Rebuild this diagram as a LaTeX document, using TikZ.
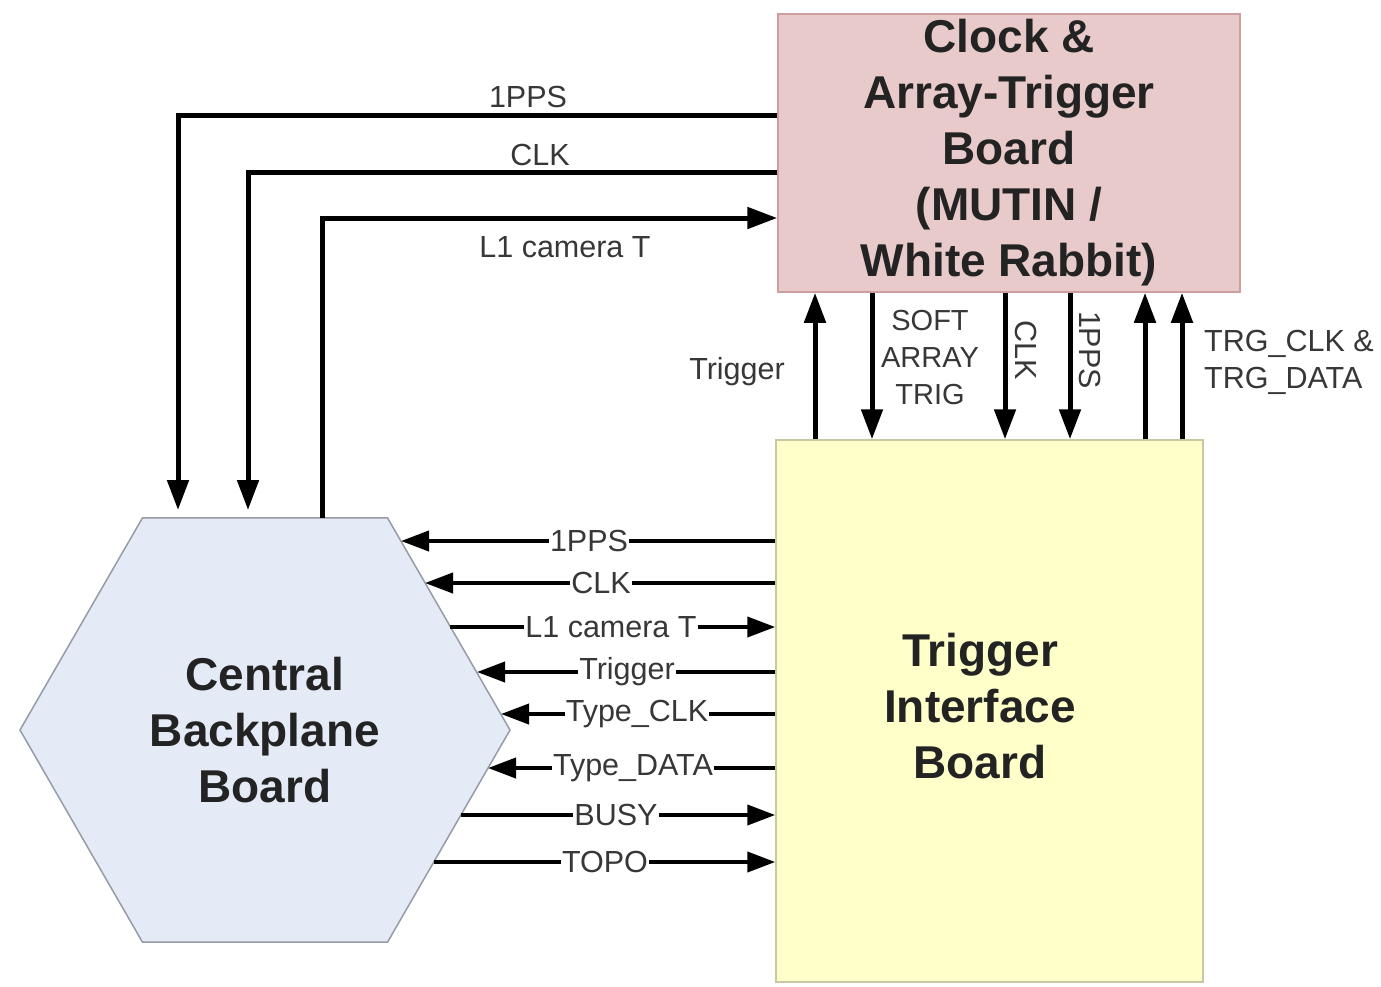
\documentclass[tikz,border=0pt]{standalone}
\usepackage{fontspec}
\setmainfont{Liberation Sans}
\usetikzlibrary{arrows.meta,shapes.geometric}
\definecolor{cabfill}{RGB}{232,202,202}
\definecolor{cabdraw}{RGB}{205,160,160}
\definecolor{tibfill}{RGB}{255,255,202}
\definecolor{tibdraw}{RGB}{200,200,165}
\definecolor{hexfill}{RGB}{228,235,246}
\definecolor{hexdraw}{RGB}{150,156,166}
\definecolor{txt}{RGB}{35,35,35}
\definecolor{ltxt}{RGB}{55,55,55}
\tikzset{
  bigtxt/.style={font=\fontsize{46}{56}\selectfont\bfseries, text=txt, align=center},
  lbl/.style={font=\fontsize{30.5}{37}\selectfont, text=ltxt, inner sep=1pt},
  onlbl/.style={lbl, fill=white},
  wire/.style={line width=5pt, line cap=butt},
  arr/.style={wire, -{Triangle[length=30pt,width=21pt]}},
  harr/.style={line width=4pt, -{Triangle[length=28pt,width=20pt]}},
}
\begin{document}
\begin{tikzpicture}[x=1pt,y=-1pt]
\useasboundingbox (0,0) rectangle (1381,986);
\fill[white] (0,0) rectangle (1381,986);
% boxes
\node[draw=cabdraw, fill=cabfill, line width=1.5pt, minimum width=462pt, minimum height=278pt, inner sep=0pt] (cab) at (1009,153) {};
\node[bigtxt] (cabtxt) at (1009,153) {Clock \&\\Array-Trigger\\Board\\(MUTIN /\\White Rabbit)};
\node[draw=tibdraw, fill=tibfill, line width=1.5pt, minimum width=427pt, minimum height=542pt, inner sep=0pt] (tib) at (989.5,711) {};
\node[bigtxt] (tibtxt) at (980,706) {Trigger\\Interface\\Board};
\node[draw=hexdraw, fill=hexfill, line width=1.5pt, regular polygon, regular polygon sides=6, minimum size=490pt, inner sep=0pt] (cbb) at (265,730) {};
\node[bigtxt] (cbbtxt) at (265,730) {Central\\Backplane\\Board};

% top-left connectors
\coordinate (c1a) at (178,115); \coordinate (c1b) at (178,510);
\coordinate (c2a) at (248,172); \coordinate (c2b) at (248,510);
\coordinate (c3a) at (322,218); \coordinate (c3b) at (322,518);
\draw[arr] (cab.west |- c1a) -- (c1a) -- (c1b);
\draw[arr] (cab.west |- c2a) -- (c2a) -- (c2b);
\draw[arr] (c3b) -- (c3a) -- (cab.west |- c3a);
\node[lbl] (l1) at (528,97) {1PPS};
\node[lbl] (l2) at (540,155) {CLK};
\node[lbl] (l3) at (565,247) {L1 camera T};

% vertical connectors between boards
\coordinate (v1) at (815,0);
\coordinate (v2) at (872,0);
\coordinate (v3) at (1005,0);
\coordinate (v4) at (1070,0);
\coordinate (v5) at (1145,0);
\coordinate (v6) at (1182,0);
\draw[arr] (v1 |- tib.north) -- (v1 |- cab.south);
\draw[arr] (v2 |- cab.south) -- (v2 |- tib.north);
\draw[arr] (v3 |- cab.south) -- (v3 |- tib.north);
\draw[arr] (v4 |- cab.south) -- (v4 |- tib.north);
\draw[arr] (v5 |- tib.north) -- (v5 |- cab.south);
\draw[arr] (v6 |- tib.north) -- (v6 |- cab.south);
\node[lbl] (lv1) at (737,372) {Trigger};
\node[lbl, align=center, font=\fontsize{29}{37}\selectfont] (lv2) at (930,358) {SOFT\\ARRAY\\TRIG};
\node[lbl, rotate=-90] (lv3) at (1026,350) {CLK};
\node[lbl, rotate=-90] (lv4) at (1090,350) {1PPS};
\node[lbl, align=left, anchor=west] (lv5) at (1203,362) {TRG\_CLK \&\\TRG\_DATA};

% horizontal connectors between hexagon and trigger interface board
\coordinate (h1) at (401,541);
\coordinate (h2) at (425,583);
\coordinate (h3) at (450,627);
\coordinate (h4) at (477,672);
\coordinate (h5) at (501,714);
\coordinate (h6) at (488,768);
\coordinate (h7) at (461,815);
\coordinate (h8) at (434,862);
\draw[harr] (tib.west |- h1) -- (h1);
\draw[harr] (tib.west |- h2) -- (h2);
\draw[harr] (h3) -- (tib.west |- h3);
\draw[harr] (tib.west |- h4) -- (h4);
\draw[harr] (tib.west |- h5) -- (h5);
\draw[harr] (tib.west |- h6) -- (h6);
\draw[harr] (h7) -- (tib.west |- h7);
\draw[harr] (h8) -- (tib.west |- h8);
\node[onlbl] (m1) at (589,541) {1PPS};
\node[onlbl] (m2) at (601,583) {CLK};
\node[onlbl] (m3) at (611,627) {L1 camera T};
\node[onlbl] (m4) at (627,672) {Trigger};
\node[onlbl] (m5) at (637,714) {Type\_CLK};
\node[onlbl] (m6) at (633,768) {Type\_DATA};
\node[onlbl] (m7) at (616,815) {BUSY};
\node[onlbl] (m8) at (605,862) {TOPO};
\end{tikzpicture}
\end{document}
